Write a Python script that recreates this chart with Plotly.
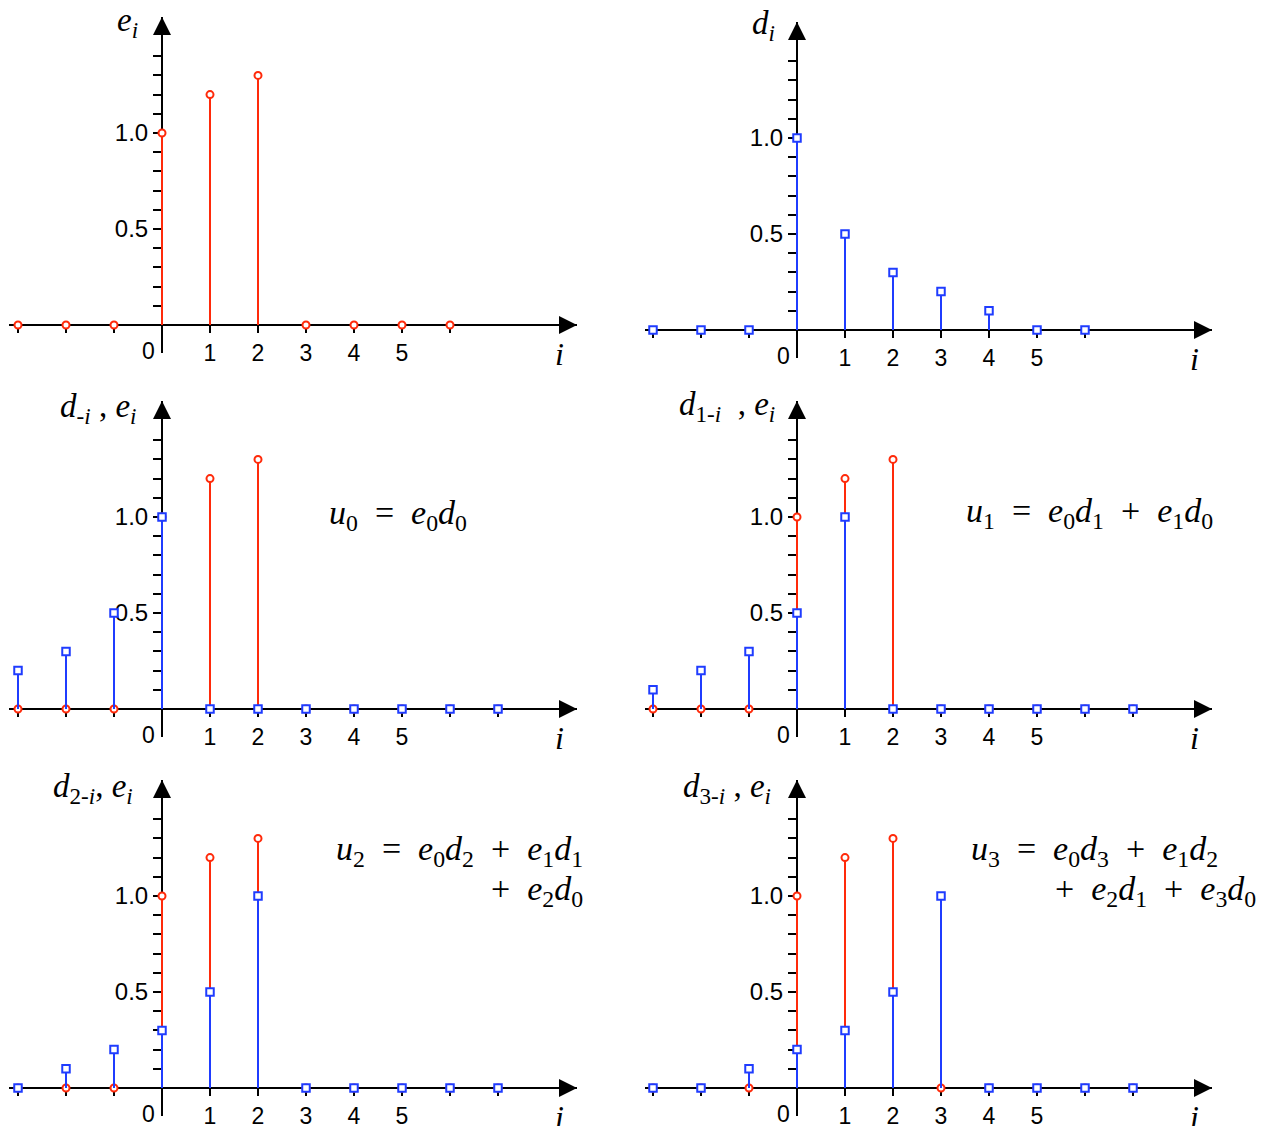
import plotly.graph_objects as go

W, H = 1269, 1126

# ---------------- data ----------------
i_top = [-3, -2, -1, 0, 1, 2, 3, 4, 5, 6]
e_top = [0, 0, 0, 1.0, 1.2, 1.3, 0, 0, 0, 0]
d_top = [0, 0, 0, 1.0, 0.5, 0.3, 0.2, 0.1, 0, 0]

i_all = [-3, -2, -1, 0, 1, 2, 3, 4, 5, 6, 7]
e_all = [0, 0, 0, 1.0, 1.2, 1.3, 0, 0, 0, 0, 0]
d_minus_i = [0.2, 0.3, 0.5, 1.0, 0, 0, 0, 0, 0, 0, 0]
d_1_minus_i = [0.1, 0.2, 0.3, 0.5, 1.0, 0, 0, 0, 0, 0, 0]
d_2_minus_i = [0, 0.1, 0.2, 0.3, 0.5, 1.0, 0, 0, 0, 0, 0]
d_3_minus_i = [0, 0, 0.1, 0.2, 0.3, 0.5, 1.0, 0, 0, 0, 0]

x_labelled = ["1", "2", "3", "4", "5"]
y_major = [0.5, 1.0]
y_major_text = ["0.5", "1.0"]
y_minor = [0.1, 0.2, 0.3, 0.4, 0.6, 0.7, 0.8, 0.9, 1.1, 1.2, 1.3, 1.4]

y_titles = [
    "<i>e</i><sub><i>i</i></sub>",
    "<i>d</i><sub><i>i</i></sub>",
    "<i>d</i><sub>-<i>i</i></sub> , <i>e</i><sub><i>i</i></sub>",
    "<i>d</i><sub>1-<i>i</i></sub>&nbsp; , <i>e</i><sub><i>i</i></sub>",
    "<i>d</i><sub>2-<i>i</i></sub>, <i>e</i><sub><i>i</i></sub>",
    "<i>d</i><sub>3-<i>i</i></sub> , <i>e</i><sub><i>i</i></sub>",
]

RED = "#ff2a0a"
BLUE = "#1f3cff"

# ---------------- layout geometry (pixels) ----------------
PX_PER_X = 48.0
PX_PER_Y = 192.0
Y_TOP_PX = 308   # from zero line up to arrow tip
Y_BOT_PX = 28    # below zero line

cols = [dict(left=9, right=577, yaxis=162), dict(left=645, right=1212, yaxis=797)]

panels = [
    dict(col=0, y0=325, i=i_top, red=e_top, blue=None),
    dict(col=1, y0=330, i=i_top, red=None, blue=d_top),
    dict(col=0, y0=709, i=i_all, red=e_all, blue=d_minus_i),
    dict(col=1, y0=709, i=i_all, red=e_all, blue=d_1_minus_i),
    dict(col=0, y0=1088, i=i_all, red=e_all, blue=d_2_minus_i),
    dict(col=1, y0=1088, i=i_all, red=e_all, blue=d_3_minus_i),
]

SERIF = "Liberation Serif, Times New Roman, serif"
SANS = "Liberation Sans, Arial, sans-serif"


def px(xp, yp):
    return xp / W, 1 - yp / H


fig = go.Figure()
annotations = []

for k, p in enumerate(panels, start=1):
    c = cols[p["col"]]
    xa = "x" if k == 1 else f"x{k}"
    ya = "y" if k == 1 else f"y{k}"
    xr = [(c["left"] - c["yaxis"]) / PX_PER_X, (c["right"] - c["yaxis"]) / PX_PER_X]
    yr = [-Y_BOT_PX / PX_PER_Y, Y_TOP_PX / PX_PER_Y]

    def stem(vals, color, symbol, size):
        return go.Scatter(
            x=p["i"], y=vals, xaxis=xa, yaxis=ya, mode="markers",
            marker=dict(symbol=symbol, size=size, color="white",
                        line=dict(color=color, width=2)),
            error_y=dict(type="data", symmetric=False, array=[0] * len(vals),
                         arrayminus=vals, width=0, thickness=2, color=color),
            cliponaxis=False, hoverinfo="x+y",
        )

    if p["red"] is not None:
        fig.add_trace(stem(p["red"], RED, "circle", 7))
    if p["blue"] is not None:
        fig.add_trace(stem(p["blue"], BLUE, "square", 7.5))

    ticktext = [""] * 4 + x_labelled + [""] * (len(p["i"]) - 9)
    axis_x = dict(
        domain=[c["left"] / W, c["right"] / W], range=xr,
        anchor="free", position=1 - p["y0"] / H, automargin=False,
        showgrid=False, showline=False,
        zeroline=True, zerolinecolor="black", zerolinewidth=2,
        tickmode="array", tickvals=p["i"], ticktext=ticktext,
        ticks="outside", ticklen=7, tickwidth=2, tickcolor="black",
        tickfont=dict(family=SANS, size=23, color="black"),
        layer="below traces", fixedrange=True,
    )
    axis_y = dict(
        domain=[1 - (p["y0"] + Y_BOT_PX) / H, 1 - (p["y0"] - Y_TOP_PX) / H], range=yr,
        anchor="free", position=c["yaxis"] / W, automargin=False,
        showgrid=False, showline=False,
        zeroline=True, zerolinecolor="black", zerolinewidth=2,
        tickmode="array", tickvals=y_major, ticktext=y_major_text,
        ticks="outside", ticklen=9, tickwidth=2, tickcolor="black",
        tickfont=dict(family=SANS, size=24, color="black"),
        minor=dict(tickmode="array", tickvals=y_minor, ticks="outside",
                   ticklen=9, tickwidth=2, tickcolor="black"),
        layer="below traces", fixedrange=True,
    )
    fig.update_layout(**{("xaxis" if k == 1 else f"xaxis{k}"): axis_x,
                         ("yaxis" if k == 1 else f"yaxis{k}"): axis_y})

    # arrow heads
    annotations.append(dict(x=xr[1], y=0, xref=xa, yref=ya, ax=-24, ay=0,
                            text="", showarrow=True, arrowhead=2, arrowsize=1.8,
                            arrowwidth=2, arrowcolor="black", standoff=0))
    annotations.append(dict(x=0, y=yr[1], xref=xa, yref=ya, ax=0, ay=24,
                            text="", showarrow=True, arrowhead=2, arrowsize=1.8,
                            arrowwidth=2, arrowcolor="black", standoff=0))
    # "0" label left of the vertical axis
    annotations.append(dict(x=0, y=0, xref=xa, yref=ya, text="0", showarrow=False,
                            xshift=-14, yshift=-26, xanchor="center", yanchor="middle",
                            font=dict(family=SANS, size=23, color="black")))
    # axis titles
    ix, iy = px(c["right"] - 18, p["y0"] + 29)
    annotations.append(dict(x=ix, y=iy, xref="paper", yref="paper", text="<i>i</i>",
                            showarrow=False, xanchor="center", yanchor="middle",
                            font=dict(family=SERIF, size=32, color="black")))

label_centres = [(127, 22), (763, 25), (98, 408), (727, 406), (93, 788), (727, 788)]
for (lx, ly), t in zip(label_centres, y_titles):
    x, y = px(lx, ly)
    annotations.append(dict(x=x, y=y, xref="paper", yref="paper", text=t,
                            showarrow=False, xanchor="center", yanchor="middle",
                            font=dict(family=SERIF, size=33, color="black")))

formulas = [
    ("<i>u</i><sub>0</sub>&nbsp; = &nbsp;<i>e</i><sub>0</sub><i>d</i><sub>0</sub>", 398, 515, "center"),
    ("<i>u</i><sub>1</sub>&nbsp; = &nbsp;<i>e</i><sub>0</sub><i>d</i><sub>1</sub>&nbsp; + &nbsp;<i>e</i><sub>1</sub><i>d</i><sub>0</sub>", 1089, 513, "center"),
    ("<i>u</i><sub>2</sub>&nbsp; = &nbsp;<i>e</i><sub>0</sub><i>d</i><sub>2</sub>&nbsp; + &nbsp;<i>e</i><sub>1</sub><i>d</i><sub>1</sub>", 585, 851, "right"),
    ("+ &nbsp;<i>e</i><sub>2</sub><i>d</i><sub>0</sub>", 585, 891, "right"),
    ("<i>u</i><sub>3</sub>&nbsp; = &nbsp;<i>e</i><sub>0</sub><i>d</i><sub>3</sub>&nbsp; + &nbsp;<i>e</i><sub>1</sub><i>d</i><sub>2</sub>", 1220, 851, "right"),
    ("+ &nbsp;<i>e</i><sub>2</sub><i>d</i><sub>1</sub>&nbsp; + &nbsp;<i>e</i><sub>3</sub><i>d</i><sub>0</sub>", 1258, 891, "right"),
]
for t, fx, fy, anc in formulas:
    x, y = px(fx, fy)
    annotations.append(dict(x=x, y=y, xref="paper", yref="paper", text=t,
                            showarrow=False, xanchor=anc, yanchor="middle",
                            font=dict(family=SERIF, size=34, color="black")))

fig.update_layout(
    width=W, height=H, margin=dict(l=0, r=0, t=0, b=0),
    paper_bgcolor="white", plot_bgcolor="white", showlegend=False,
    annotations=annotations,
)

fig.write_html(
    "out.html",
    config={"displayModeBar": False},
    post_script="document.body.style.margin='0px';document.body.style.overflow='hidden';",
)
